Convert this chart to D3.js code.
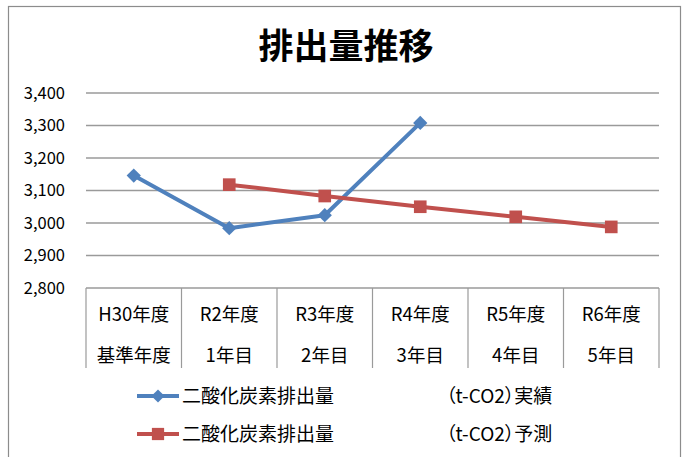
<!DOCTYPE html>
<html>
<head>
<meta charset="utf-8">
<script src="https://cdn.jsdelivr.net/npm/d3@7"></script>
<style>
  body { margin: 0; background: #fff; }
  svg { display: block; font-family: "Noto Sans CJK JP", "Noto Sans", sans-serif; }
  .unit { font-feature-settings: "palt"; }
</style>
</head>
<body>
<div id="chart"></div>
<script>
  // data
  const yearLabels = ['H30年度', 'R2年度', 'R3年度', 'R4年度', 'R5年度', 'R6年度'];
  const stageLabels = ['基準年度', '1年目', '2年目', '3年目', '4年目', '5年目'];
  const actualValues = [3146, 2984, 3024, 3308, null, null];
  const forecastValues = [null, 3118, 3083, 3050, 3019, 2988];
  const seriesNames = ['二酸化炭素排出量', '二酸化炭素排出量'];
  const seriesUnits = ['（t-CO2）実績', '（t-CO2）予測'];
  const yTicks = [2800, 2900, 3000, 3100, 3200, 3300, 3400];

  const width = 683;
  const height = 457;
  const margin = { top: 93, left: 86, right: 24 };
  const plotBottom = 288;
  const blue = '#4f81bd';
  const red = '#c0504d';

  const svg = d3.select('#chart')
    .append('svg')
    .attr('width', width)
    .attr('height', height);

  // outer frame
  svg.append('rect')
    .attr('x', 8.5)
    .attr('y', 6.5)
    .attr('width', 672)
    .attr('height', 470)
    .attr('fill', 'none')
    .attr('stroke', '#8c8c8c')
    .attr('stroke-width', 1.2);

  svg.append('text')
    .attr('x', 346)
    .attr('y', 59)
    .attr('text-anchor', 'middle')
    .attr('font-size', 35)
    .attr('font-weight', 'bold')
    .attr('fill', '#000')
    .text('排出量推移');

  const x = d3.scaleBand()
    .domain(yearLabels)
    .range([margin.left, width - margin.right]);

  const y = d3.scaleLinear()
    .domain([2800, 3400])
    .range([plotBottom, margin.top]);

  // gridlines
  svg.append('g')
    .selectAll('line')
    .data(yTicks)
    .join('line')
    .attr('x1', margin.left)
    .attr('x2', width - margin.right)
    .attr('y1', d => y(d))
    .attr('y2', d => y(d))
    .attr('stroke', '#9a9a9a')
    .attr('stroke-width', 1.3);

  // y axis labels
  svg.append('g')
    .selectAll('text')
    .data(yTicks)
    .join('text')
    .attr('x', 65)
    .attr('y', d => y(d))
    .attr('dy', '0.36em')
    .attr('text-anchor', 'end')
    .attr('font-size', 16.5)
    .attr('fill', '#000')
    .text(d => d3.format(',')(d));

  // category table under the plot
  const tableBottom = 368;
  const dividers = yearLabels.map(d => x(d)).concat([x.range()[1]]);
  svg.append('g')
    .selectAll('line')
    .data(dividers)
    .join('line')
    .attr('x1', d => d)
    .attr('x2', d => d)
    .attr('y1', plotBottom)
    .attr('y2', tableBottom)
    .attr('stroke', '#9a9a9a')
    .attr('stroke-width', 1.2);

  const rows = [
    { labels: yearLabels, y: 321 },
    { labels: stageLabels, y: 362 }
  ];
  rows.forEach(row => {
    svg.append('g')
      .selectAll('text')
      .data(row.labels)
      .join('text')
      .attr('x', (d, i) => x(yearLabels[i]) + x.bandwidth() / 2)
      .attr('y', row.y)
      .attr('text-anchor', 'middle')
      .attr('font-size', 18.5)
      .attr('fill', '#000')
      .text(d => d);
  });

  const line = d3.line()
    .defined(d => d.v !== null)
    .x(d => x(d.cat) + x.bandwidth() / 2)
    .y(d => y(d.v));

  const series = [
    { values: actualValues, color: blue, marker: 'diamond' },
    { values: forecastValues, color: red, marker: 'square' }
  ];

  series.forEach(s => {
    const pts = s.values.map((v, i) => ({ cat: yearLabels[i], v }));
    svg.append('path')
      .datum(pts)
      .attr('d', line)
      .attr('fill', 'none')
      .attr('stroke', s.color)
      .attr('stroke-width', 4)
      .attr('stroke-linejoin', 'round');

    const sym = s.marker === 'diamond'
      ? d3.symbol().type(d3.symbolDiamond2).size(130)
      : d3.symbol().type(d3.symbolSquare).size(160);

    svg.append('g')
      .selectAll('path')
      .data(pts.filter(d => d.v !== null))
      .join('path')
      .attr('transform', d => `translate(${x(d.cat) + x.bandwidth() / 2},${y(d.v)})`)
      .attr('d', sym)
      .attr('fill', s.color);
  });

  // legend
  const legendY = [396, 434];
  series.forEach((s, i) => {
    const g = svg.append('g').attr('transform', `translate(0,${legendY[i]})`);
    g.append('line')
      .attr('x1', 137)
      .attr('x2', 179)
      .attr('stroke', s.color)
      .attr('stroke-width', 4);
    const sym = s.marker === 'diamond'
      ? d3.symbol().type(d3.symbolDiamond2).size(110)
      : d3.symbol().type(d3.symbolSquare).size(150);
    g.append('path')
      .attr('transform', 'translate(158,0)')
      .attr('d', sym)
      .attr('fill', s.color);
    g.append('text')
      .attr('x', 182)
      .attr('dy', '0.36em')
      .attr('font-size', 19)
      .attr('fill', '#000')
      .text(seriesNames[i]);
    g.append('text')
      .attr('class', 'unit')
      .attr('x', 446)
      .attr('dy', '0.36em')
      .attr('font-size', 19)
      .attr('fill', '#000')
      .text(seriesUnits[i]);
  });
</script>
</body>
</html>
